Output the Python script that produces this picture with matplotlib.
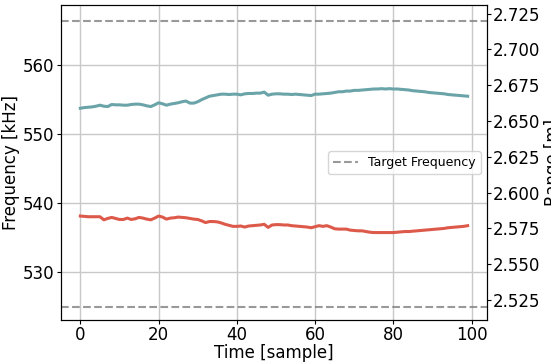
import numpy as np
import matplotlib
matplotlib.use("Agg")
import matplotlib.pyplot as plt

# samples
t = np.arange(100)

# frequency of the two peaks [kHz]
freq_upper = [553.75, 553.85, 553.9, 553.95, 554.05, 554.2, 554.05, 554.0, 554.3, 554.25,
              554.25, 554.2, 554.2, 554.3, 554.35, 554.35, 554.25, 554.1, 554.0, 554.25,
              554.55, 554.4, 554.2, 554.35, 554.45, 554.55, 554.7, 554.8, 554.5, 554.5,
              554.7, 555.0, 555.25, 555.5, 555.6, 555.7, 555.8, 555.8, 555.75, 555.8,
              555.8, 555.7, 555.85, 555.9, 555.9, 555.95, 555.95, 556.1, 555.65, 555.8,
              555.85, 555.85, 555.8, 555.8, 555.75, 555.8, 555.75, 555.7, 555.65, 555.6,
              555.8, 555.8, 555.85, 555.9, 555.95, 556.05, 556.15, 556.15, 556.25, 556.25,
              556.35, 556.35, 556.4, 556.45, 556.5, 556.55, 556.55, 556.6, 556.55, 556.6,
              556.55, 556.55, 556.5, 556.45, 556.4, 556.3, 556.25, 556.2, 556.15, 556.05,
              556.0, 555.95, 555.9, 555.85, 555.75, 555.7, 555.65, 555.6, 555.55, 555.5]

freq_lower = [538.1, 538.05, 538.0, 538.0, 538.0, 538.0, 537.55, 537.75, 537.9, 537.75,
              537.6, 537.6, 537.8, 537.6, 537.7, 537.9, 537.8, 537.65, 537.55, 537.8,
              538.1, 537.95, 537.65, 537.8, 537.85, 537.95, 537.9, 537.85, 537.75, 537.65,
              537.6, 537.4, 537.15, 537.3, 537.3, 537.25, 537.1, 536.9, 536.75, 536.6,
              536.6, 536.65, 536.5, 536.65, 536.7, 536.75, 536.8, 536.9, 536.45, 536.8,
              536.85, 536.85, 536.8, 536.8, 536.7, 536.65, 536.6, 536.55, 536.5, 536.4,
              536.55, 536.7, 536.6, 536.7, 536.5, 536.25, 536.2, 536.2, 536.2, 536.05,
              536.0, 535.95, 535.95, 535.85, 535.75, 535.7, 535.7, 535.7, 535.7, 535.7,
              535.7, 535.75, 535.8, 535.85, 535.85, 535.9, 535.95, 536.0, 536.05, 536.1,
              536.15, 536.2, 536.25, 536.3, 536.4, 536.45, 536.5, 536.55, 536.6, 536.7]

# target lines on the range axis [m]
target = [2.52, 2.72]

fig, ax = plt.subplots(figsize=(5.51, 3.63), dpi=100)
fig.subplots_adjust(left=61/551, right=487/551, top=1-5/363, bottom=1-320/363)

ax.plot(t, freq_upper, color="#6aa4a9", lw=2.2)
ax.plot(t, freq_lower, color="#dd5a4b", lw=2.2)
ax.set_ylim(523.0, 568.75)
ax.set_xlabel("Time [sample]", fontsize=12, labelpad=0)
ax.set_ylabel("Frequency [kHz]", fontsize=12, labelpad=2)
ax.tick_params(labelsize=12, length=3, pad=1.5)
ax.grid(True, color="#c8c8c8", lw=1)

ax2 = ax.twinx()
for i, r in enumerate(target):
    ax2.axhline(r, color="gray", ls="--", lw=1.5, alpha=0.8,
                label="Target Frequency" if i == 0 else None)
ax2.set_ylim(2.511, 2.731)
ax2.set_ylabel("Range [m]", fontsize=12, labelpad=2)
ax2.tick_params(labelsize=12, length=3, pad=1.5)
ax2.legend(loc="center right", fontsize=9)

fig.savefig("out.png", dpi=100)
